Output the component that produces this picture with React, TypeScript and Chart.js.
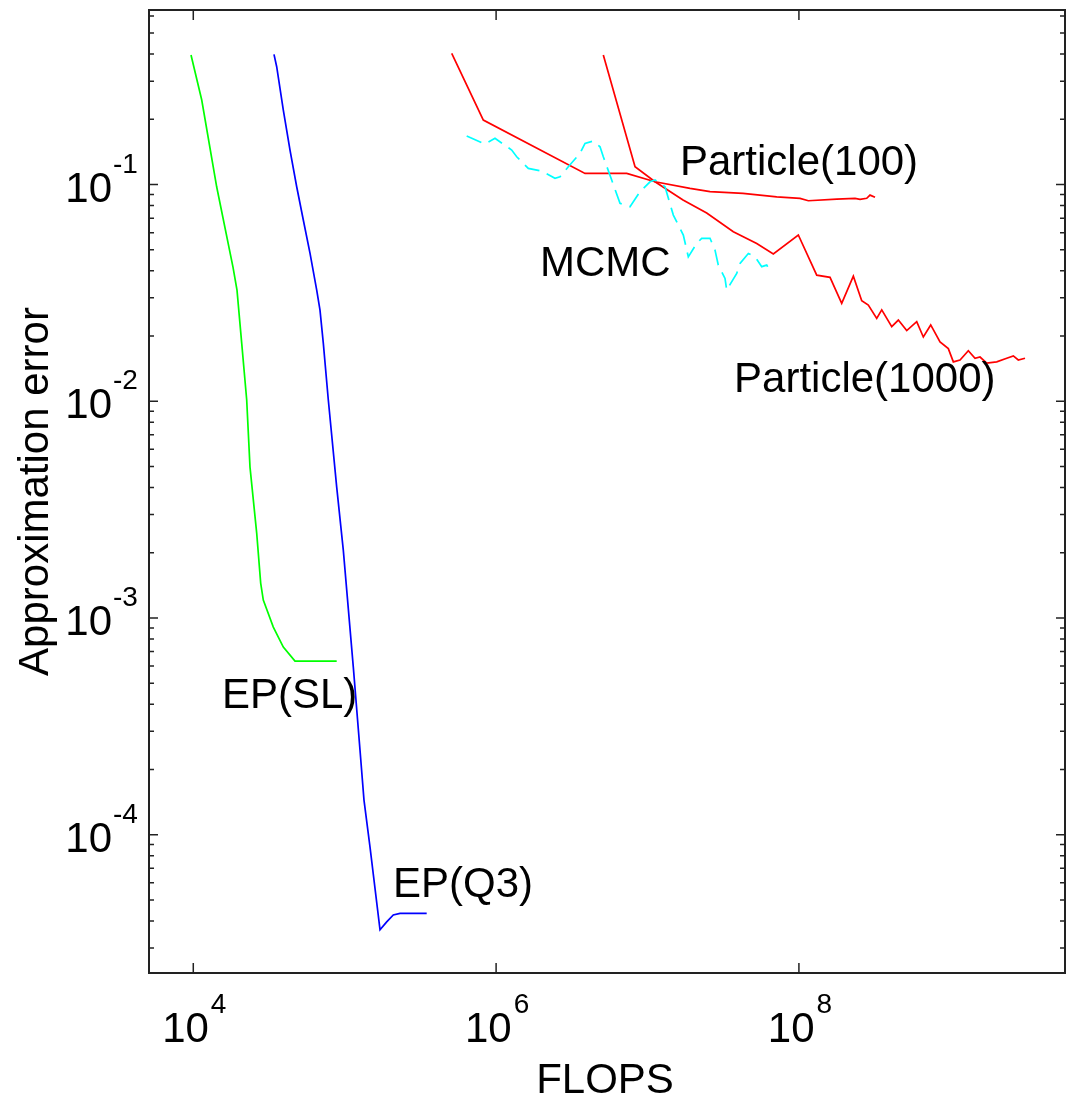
import React, { useEffect, useRef } from "react";
import { Chart, registerables } from "chart.js";

Chart.register(...registerables);

// ---- data ----
const epslFlops = [9660, 11370, 14280, 18290, 19440, 20880, 22530, 23690, 26230, 27870, 29000, 33770, 39320, 46960, 88550];
const epslError = [0.396, 0.2455, 0.0974, 0.04163, 0.03259, 0.01856, 0.01013, 0.004969, 0.002465, 0.001449, 0.001209, 0.000908, 0.000734, 0.000632, 0.000632];

const epq3Flops = [34120, 35550, 39320, 43530, 48190, 53290, 58990, 65340, 68690, 72230, 77950, 88550, 97900, 114000, 126200, 134100, 146900, 171100, 189400, 209400, 231900, 348000];
const epq3Error = [0.399, 0.3497, 0.2207, 0.1443, 0.0977, 0.0686, 0.0483, 0.03259, 0.02636, 0.01856, 0.01013, 0.004019, 0.002057, 0.000593, 0.0002458, 0.0001444, 0.0000879, 0.0000364, 0.0000396, 0.0000426, 0.0000433, 0.0000433];

const p100Flops = [509200, 823300, 3866000, 7289000, 11210000, 19090000, 25870000, 42730000, 71360000, 101700000, 115400000, 177700000, 234800000, 253300000, 280400000, 294900000, 318200000];
const p100Error = [0.4031, 0.1985, 0.1126, 0.1126, 0.103, 0.096, 0.0927, 0.0911, 0.0878, 0.0864, 0.0842, 0.0857, 0.0864, 0.0854, 0.0864, 0.0894, 0.0873];

const p1000Flops = [5106000, 8272000, 11210000, 17160000, 24600000, 36880000, 52650000, 67750000, 99090000, 131100000, 160500000, 191700000, 228800000, 259900000, 287300000, 326500000, 352400000, 410200000, 453600000, 515300000, 599900000, 663300000, 742100000, 855000000, 970000000, 1047000000, 1159000000, 1315000000, 1456000000, 1571000000, 1740000000, 2025000000, 2358000000, 2607000000, 2812000000, 3114000000];
const p1000Error = [0.396, 0.1208, 0.103, 0.0848, 0.0739, 0.0606, 0.0535, 0.0478, 0.0585, 0.0382, 0.0373, 0.0283, 0.0378, 0.0291, 0.0278, 0.0241, 0.0264, 0.0221, 0.0237, 0.0212, 0.0233, 0.0198, 0.0225, 0.0188, 0.0175, 0.0152, 0.0155, 0.0171, 0.0158, 0.016, 0.015, 0.0152, 0.0158, 0.0162, 0.0155, 0.0158];

const mcmcFlops = [639300, 844800, 983300, 1268000, 1368000, 1632000, 2001000, 2449000, 2643000, 2999000, 3583000, 3866000, 4385000, 4857000, 5106000, 5801000, 6583000, 7664000, 8923000, 10390000, 11210000, 13050000, 14810000, 17240000, 18600000, 21130000, 22800000, 25870000, 27920000, 29350000, 32500000, 33350000, 38840000, 40830000, 46330000, 51290000, 56800000, 61280000, 66130000];
const mcmcError = [0.1675, 0.1538, 0.1634, 0.1443, 0.1344, 0.1188, 0.1154, 0.1068, 0.1086, 0.1208, 0.1393, 0.1549, 0.1588, 0.1494, 0.1344, 0.1049, 0.0819, 0.079, 0.0927, 0.103, 0.1049, 0.0977, 0.0723, 0.0585, 0.0464, 0.0535, 0.0565, 0.0565, 0.0498, 0.0425, 0.0369, 0.0326, 0.0389, 0.0433, 0.0481, 0.0464, 0.0418, 0.0425, 0.0389];

const curveLabels = ["Particle(100)", "MCMC", "Particle(1000)", "EP(SL)", "EP(Q3)"];
const curveLabelX = [16390000, 1950000, 37270000, 15470, 208400];
const curveLabelY = [0.1106, 0.03784, 0.01103, 0.0003838, 0.00005152];

const xTickValues = [1e4, 1e6, 1e8];
const xTickExponents = ["4", "6", "8"];
const yTickValues = [1e-4, 1e-3, 1e-2, 1e-1];
const yTickExponents = ["-4", "-3", "-2", "-1"];

const xTitle = "FLOPS";
const yTitle = "Approximation error";

const FONT = '"Liberation Sans", Arial, Helvetica, sans-serif';

function pts(xs: number[], ys: number[]) {
  return xs.map((x, i) => ({ x, y: ys[i] }));
}

const framePlugin = {
  id: "framePlugin",
  afterDraw(chart: any) {
    const ctx = chart.ctx as CanvasRenderingContext2D;
    const { left, right, top, bottom } = chart.chartArea;
    const xs = chart.scales.x;
    const ys = chart.scales.y;
    ctx.save();
    ctx.strokeStyle = "#222";
    ctx.fillStyle = "#000";
    ctx.lineWidth = 2;
    ctx.strokeRect(left, top, right - left, bottom - top);

    ctx.lineWidth = 1.5;
    ctx.beginPath();
    xTickValues.forEach((v) => {
      const px = xs.getPixelForValue(v);
      ctx.moveTo(px, bottom);
      ctx.lineTo(px, bottom - 10);
      ctx.moveTo(px, top);
      ctx.lineTo(px, top + 10);
    });
    const yMin = ys.min, yMax = ys.max;
    for (let k = -6; k <= 1; k++) {
      for (let m = 1; m <= 9; m++) {
        const v = m * Math.pow(10, k);
        if (v < yMin || v > yMax) continue;
        const py = ys.getPixelForValue(v);
        const len = m === 1 ? 9 : 5;
        ctx.moveTo(left, py);
        ctx.lineTo(left + len, py);
        ctx.moveTo(right, py);
        ctx.lineTo(right - len, py);
      }
    }
    ctx.stroke();

    ctx.textBaseline = "alphabetic";
    xTickValues.forEach((v, i) => {
      const px = xs.getPixelForValue(v);
      ctx.font = `42px ${FONT}`;
      const wBase = ctx.measureText("10").width;
      ctx.font = `28px ${FONT}`;
      const wExp = ctx.measureText(xTickExponents[i]).width;
      const start = px - (wBase + wExp) / 2;
      ctx.textAlign = "left";
      ctx.font = `42px ${FONT}`;
      ctx.fillText("10", start, bottom + 69);
      ctx.font = `28px ${FONT}`;
      ctx.fillText(xTickExponents[i], start + wBase + 2, bottom + 40);
    });

    yTickValues.forEach((v, i) => {
      const py = ys.getPixelForValue(v);
      ctx.font = `42px ${FONT}`;
      ctx.textAlign = "right";
      ctx.fillText("10", left - 37, py + 17);
      ctx.font = `28px ${FONT}`;
      ctx.textAlign = "left";
      ctx.fillText(yTickExponents[i], left - 36, py - 12);
    });

    ctx.font = `42px ${FONT}`;
    ctx.textAlign = "center";
    ctx.fillText(xTitle, (left + right) / 2 - 2, bottom + 120);
    ctx.save();
    ctx.translate(48, (top + bottom) / 2);
    ctx.rotate(-Math.PI / 2);
    ctx.textAlign = "center";
    ctx.fillText(yTitle, 0, 0);
    ctx.restore();

    ctx.textAlign = "left";
    ctx.font = `42px ${FONT}`;
    curveLabels.forEach((t, i) => {
      const px = xs.getPixelForValue(curveLabelX[i]);
      const py = ys.getPixelForValue(curveLabelY[i]);
      ctx.fillText(t, px, py);
    });
    ctx.restore();
  },
};

export default function App() {
  const ref = useRef<HTMLCanvasElement | null>(null);
  useEffect(() => {
    if (!ref.current) return;
    const common = { fill: false, pointRadius: 0, borderWidth: 1.7, tension: 0 };
    const chart = new Chart(ref.current, {
      type: "line",
      data: {
        datasets: [
          { ...common, label: "EP(SL)", data: pts(epslFlops, epslError), borderColor: "#00ff00" },
          { ...common, label: "EP(Q3)", data: pts(epq3Flops, epq3Error), borderColor: "#0000ff" },
          { ...common, label: "MCMC", data: pts(mcmcFlops, mcmcError), borderColor: "#00ffff", borderDash: [16, 8] },
          { ...common, label: "Particle(100)", data: pts(p100Flops, p100Error), borderColor: "#ff0000" },
          { ...common, label: "Particle(1000)", data: pts(p1000Flops, p1000Error), borderColor: "#ff0000" },
        ],
      },
      options: {
        animation: false,
        responsive: true,
        maintainAspectRatio: false,
        layout: { padding: { left: 149, top: 10, right: 2, bottom: 129 } },
        plugins: { legend: { display: false }, tooltip: { enabled: false } },
        scales: {
          x: { type: "logarithmic", display: false, min: 5099, max: 5.72e9 },
          y: { type: "logarithmic", display: false, min: 2.3e-5, max: 0.639 },
        },
      },
      plugins: [framePlugin],
    } as any);
    return () => chart.destroy();
  }, []);
  return (
    <div style={{ position: "fixed", left: 0, top: 0, width: 1067, height: 1102, background: "#fff" }}>
      <canvas ref={ref} />
    </div>
  );
}
